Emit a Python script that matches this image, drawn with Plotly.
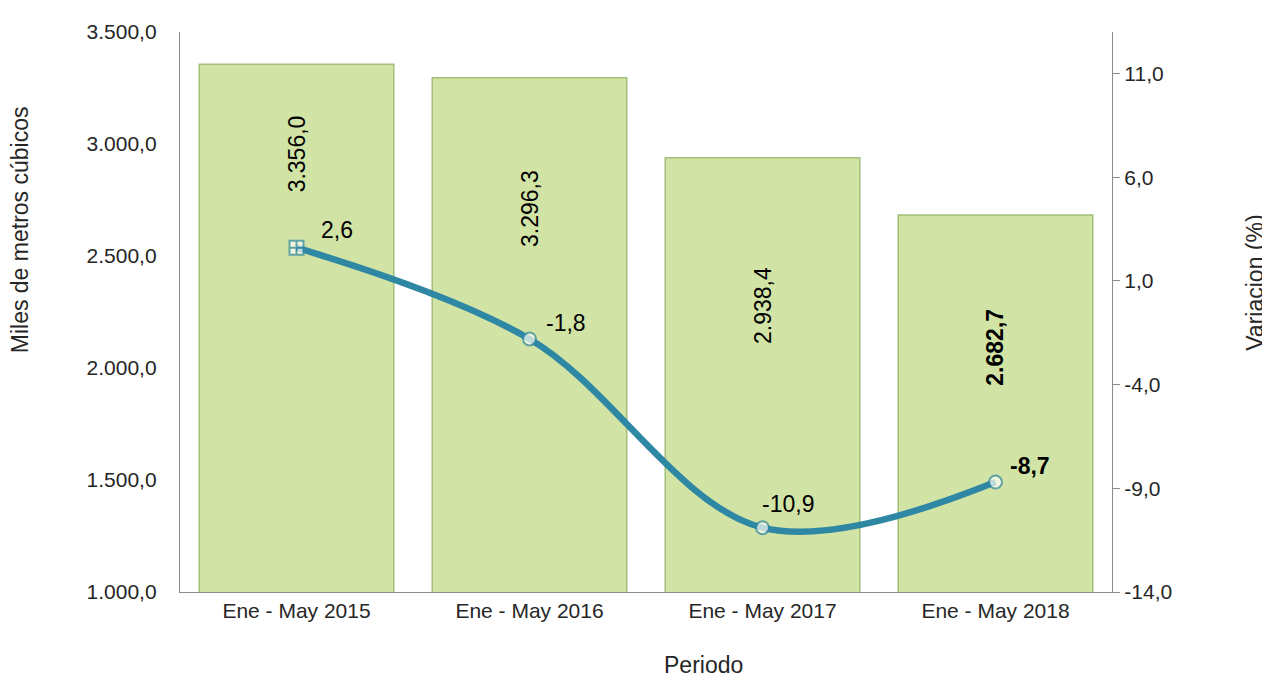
import plotly.graph_objects as go

categories = ["Ene - May 2015", "Ene - May 2016", "Ene - May 2017", "Ene - May 2018"]
volumes = [3356.0, 3296.3, 2938.4, 2682.7]
variation = [2.6, -1.8, -10.9, -8.7]
left_ticks = [1000, 1500, 2000, 2500, 3000, 3500]
right_ticks = [-14, -9, -4, 1, 6, 11]

# label placement (style, not data)
bar_label_pos = [2956, 2712, 2279, 2093]
line_label_shift = [(22, 18), (14, 16), (25, 24), (12, 16)]
bold_flags = [False, False, False, True]


def es(v, nd=1):
    s = f"{v:,.{nd}f}"
    return s.replace(",", "X").replace(".", ",").replace("X", ".")


FONT = "Liberation Sans, Arial, sans-serif"
TXT = "#262626"
LINE_C = "#2f88a3"

fig = go.Figure()
fig.add_trace(go.Bar(
    x=categories, y=volumes, yaxis="y",
    marker=dict(color="#d2e3a6", line=dict(color="#a3bf78", width=1.5)),
    width=0.835, hoverinfo="skip", showlegend=False,
))

symbols = ["square-cross"] + ["circle"] * (len(variation) - 1)
fig.add_trace(go.Scatter(
    x=categories, y=variation, yaxis="y2", mode="lines+markers",
    line=dict(color=LINE_C, width=6.5, shape="spline", smoothing=1.0),
    marker=dict(symbol=symbols, size=[14, 13, 13, 13], color="#fdfdf2",
                line=dict(color=LINE_C, width=2)),
    showlegend=False, hoverinfo="skip",
))

annotations = []
for c, v, yp, b in zip(categories, volumes, bar_label_pos, bold_flags):
    t = es(v)
    annotations.append(dict(
        x=c, y=yp, xref="x", yref="y", text=f"<b>{t}</b>" if b else t,
        textangle=-90, showarrow=False, font=dict(family=FONT, size=23, color="#000000"),
        xanchor="center", yanchor="middle",
    ))
for c, v, (dx, dy), b in zip(categories, variation, line_label_shift, bold_flags):
    t = es(v)
    annotations.append(dict(
        x=c, y=v, xref="x", yref="y2", text=f"<b>{t}</b>" if b else t,
        showarrow=False, font=dict(family=FONT, size=23, color="#000000"),
        xanchor="center" if v < -10 else "left", yanchor="middle", xshift=dx, yshift=dy,
    ))

# page offset of 8px (body margin) -> figure is 8px smaller
OFF = 8
W, H = 1270 - OFF, 681 - OFF
L, T = 180 - OFF, 27 - OFF
pw, ph = 932, 565
R, B = W - L - pw, H - T - ph

titles = [
    ("Miles de metros cúbicos", 20, 227, -90),
    ("Variacion (%)", 1255, 280, -90),
    ("Periodo", 703, 666, 0),
]
for text, px, py, ang in titles:
    annotations.append(dict(
        text=text, xref="paper", yref="paper", showarrow=False, textangle=ang,
        x=(px - OFF - L) / pw, y=(H - (py - OFF) - B) / ph,
        xanchor="center", yanchor="middle",
        font=dict(family=FONT, size=23, color=TXT),
    ))

fig.update_layout(
    width=W, height=H,
    margin=dict(l=L, r=R, t=T, b=B, pad=0),
    plot_bgcolor="white", paper_bgcolor="white",
    font=dict(family=FONT, size=21, color=TXT),
    xaxis=dict(
        showline=True, linecolor="#8c8c8c", linewidth=1.3, ticks="",
        tickfont=dict(size=21, color=TXT), showgrid=False, range=[-0.5, 3.5],
    ),
    yaxis=dict(
        range=[1000, 3500], tickvals=left_ticks, ticktext=[es(v) for v in left_ticks],
        showline=True, linecolor="#8c8c8c", linewidth=1.3, ticks="", showgrid=False,
        zeroline=False, tickfont=dict(size=21, color=TXT), ticklabelstandoff=18,
    ),
    yaxis2=dict(
        range=[-14, 13], tickvals=right_ticks, ticktext=[es(v) for v in right_ticks],
        overlaying="y", side="right", showline=True, linecolor="#8c8c8c", linewidth=1.3,
        ticks="outside", ticklen=7, tickcolor="#8c8c8c", showgrid=False, zeroline=False,
        tickfont=dict(size=21, color=TXT),
    ),
    annotations=annotations,
)

fig.write_html("out.html")
